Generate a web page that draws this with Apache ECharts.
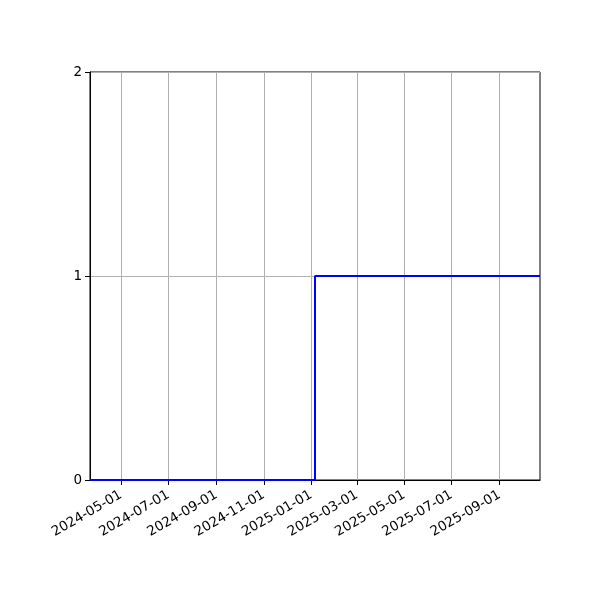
<!DOCTYPE html>
<html>
<head>
<meta charset="utf-8">
<script src="https://cdn.jsdelivr.net/npm/echarts@6/dist/echarts.min.js"></script>
<style>
  html, body { margin: 0; padding: 0; background: #fff; }
  #chart { width: 600px; height: 600px; }
</style>
</head>
<body>
<div id="chart"></div>
<script>
var dates = ['2024-03-22', '2025-01-06', '2025-10-23'];
var values = [0, 1, 1];
var tickDates = ['2024-05-01', '2024-07-01', '2024-09-01', '2024-11-01', '2025-01-01',
                 '2025-03-01', '2025-05-01', '2025-07-01', '2025-09-01'];

// dates -> UTC milliseconds, so the axis is a plain numeric scale
function toMs(d) {
  var p = d.split('-');
  return Date.UTC(+p[0], +p[1] - 1, +p[2]);
}
function pad(n) { return n < 10 ? '0' + n : '' + n; }
function fmt(ms) {
  var t = new Date(ms);
  return t.getUTCFullYear() + '-' + pad(t.getUTCMonth() + 1) + '-' + pad(t.getUTCDate());
}

var chartDom = document.getElementById('chart');
var myChart = echarts.init(chartDom);

var tickValues = tickDates.map(toMs);
var seriesData = dates.map(function (d, i) { return [toMs(d), values[i]]; });

var option = {
  animation: false,
  grid: {
    left: 90, right: 60, top: 72, bottom: 120,
    show: true, borderColor: '#000', borderWidth: 1, backgroundColor: 'transparent'
  },
  xAxis: {
    type: 'value',
    position: 'bottom',
    min: toMs(dates[0]),
    max: toMs(dates[dates.length - 1]),
    axisLine: { show: true, onZero: false, lineStyle: { color: '#000', width: 1 } },
    axisTick: {
      show: true, inside: false, length: 5,
      lineStyle: { color: '#000', width: 1 },
      customValues: tickValues
    },
    axisLabel: {
      customValues: tickValues,
      rotate: 30,
      color: '#000',
      fontSize: 13.5,
      fontFamily: 'DejaVu Sans',
      margin: 14,
      hideOverlap: false,
      formatter: function (v) { return fmt(v); }
    },
    splitLine: { show: true, lineStyle: { color: '#b0b0b0', width: 1 } }
  },
  yAxis: {
    type: 'value',
    min: 0,
    max: 2,
    interval: 1,
    axisLine: { show: true, lineStyle: { color: '#000', width: 1 } },
    axisTick: { show: true, inside: false, length: 5, lineStyle: { color: '#000' } },
    axisLabel: { color: '#000', fontSize: 13.5, fontFamily: 'DejaVu Sans', margin: 8 },
    splitLine: { show: true, lineStyle: { color: '#b0b0b0', width: 1 } }
  },
  series: [{
    type: 'line',
    step: 'end',
    data: seriesData,
    showSymbol: false,
    lineStyle: { color: '#0000ff', width: 2 },
    itemStyle: { color: '#0000ff' }
  }]
};

option && myChart.setOption(option);
</script>
</body>
</html>
